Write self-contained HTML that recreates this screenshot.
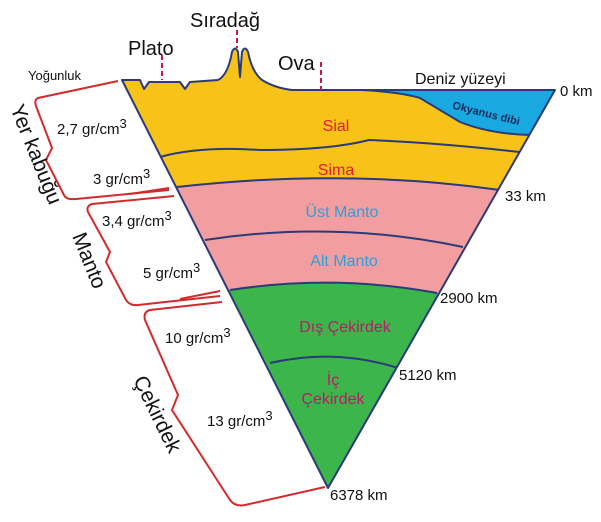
<!DOCTYPE html>
<html><head><meta charset="utf-8"><style>body{margin:0;background:#fff}svg{display:block}text{font-family:"Liberation Sans",sans-serif}</style></head>
<body>
<svg width="601" height="522" viewBox="0 0 601 522">
<defs>
<clipPath id="tri"><path d="M122,80 L140,80 L144,89 L149,82 L180,82 L185,89 L190,82 L218,80 Q228,75 232,52 Q235,45 238,52 L240,77 L242,52 Q245,45 248,52 Q252,72 262,80 Q275,88 292,90 L555,90 L328,488 Z"/></clipPath>
</defs>
<g clip-path="url(#tri)">
<rect x="0" y="0" width="601" height="522" fill="#f7c318"/>
<path d="M100,187 L177,187 Q346,168 500,190 L601,190 L601,300 L437,293 Q335,274 230,290 L100,295Z" fill="#f29ea0"/>
<path d="M100,290 L230,290 Q335,274 437,293 L601,300 L601,522 L100,522Z" fill="#3cb54a"/>
<path d="M362,90 Q400,92 420,98 Q440,110 460,122 Q490,134 531,135 L601,135 L601,90 Z" fill="#19a8e0"/>
<g fill="none" stroke="#2b3a78" stroke-width="2">
<path d="M362,90 Q400,92 420,98 Q440,110 460,122 Q490,134 531,135"/>
<path d="M160,157 Q200,146 260,150 Q330,150 369,140 Q440,143 519,152"/>
<path d="M177,187 Q346,168 500,190"/>
<path d="M205,240 Q335,220 463,247"/>
<path d="M230,290 Q335,274 437,293"/>
<path d="M270,363 Q335,348 398,368"/>
</g>
</g>
<path d="M122,80 L140,80 L144,89 L149,82 L180,82 L185,89 L190,82 L218,80 Q228,75 232,52 Q235,45 238,52 L240,77 L242,52 Q245,45 248,52 Q252,72 262,80 Q275,88 292,90 L555,90 L328,488 Z" fill="none" stroke="#2b3a78" stroke-width="2" stroke-linejoin="round"/>
<g stroke="#c2185b" stroke-width="2" stroke-dasharray="5,3">
<line x1="162" y1="55" x2="162" y2="80"/><line x1="237" y1="30" x2="237" y2="48"/><line x1="321" y1="62" x2="321" y2="90"/>
</g>
<g fill="none" stroke="#d22b2b" stroke-width="2">
<path d="M118,81 L38,98 Q34,100 36,106 L52,148 L46,160 L64,195 Q66,200 76,199 L169,190"/>
<path d="M130,194 L169,188"/>
<path d="M174,196 L92,204 Q86,206 88,212 L110,252 L106,262 L126,300 Q130,306 138,305 L220,296"/>
<path d="M180,299 L220,291"/>
<path d="M222,302 L150,310 Q143,312 145,320 L178,395 L172,410 L230,500 Q235,507 245,505 L325,487"/>
</g>
<g font-size="20" fill="#111">
<text x="128" y="55">Plato</text><text x="190" y="27">Sıradağ</text><text x="278" y="70">Ova</text>
</g>
<g font-size="15" fill="#111">
<text x="28" y="80" font-size="13">Yoğunluk</text>
<text x="415" y="84" font-size="16">Deniz yüzeyi</text>
<text x="560" y="96">0 km</text>
<text x="505" y="201">33 km</text>
<text x="440" y="303">2900 km</text>
<text x="399" y="380">5120 km</text>
<text x="330" y="500">6378 km</text>
<text x="57" y="134">2,7 gr/cm<tspan dy="-6" font-size="13">3</tspan></text>
<text x="93" y="184">3 gr/cm<tspan dy="-6" font-size="13">3</tspan></text>
<text x="102" y="226">3,4 gr/cm<tspan dy="-6" font-size="13">3</tspan></text>
<text x="143" y="278">5 gr/cm<tspan dy="-6" font-size="13">3</tspan></text>
<text x="165" y="343">10 gr/cm<tspan dy="-6" font-size="13">3</tspan></text>
<text x="207" y="426">13 gr/cm<tspan dy="-6" font-size="13">3</tspan></text>
</g>
<text x="452" y="113" font-size="11" font-weight="bold" fill="#1b2a5e" transform="rotate(14 470 110)">Okyanus dibi</text>
<g font-size="16" text-anchor="middle">
<text x="336" y="131" fill="#e5183a">Sial</text>
<text x="336" y="175" fill="#e5183a">Sima</text>
<text x="342" y="217" fill="#2e9fd8">Üst Manto</text>
<text x="344" y="266" fill="#2e9fd8">Alt Manto</text>
<text x="345" y="332" fill="#c0186e">Dış Çekirdek</text>
<text x="333" y="385" fill="#c0186e">İç</text>
<text x="333" y="404" fill="#c0186e">Çekirdek</text>
</g>
<g font-size="21" fill="#111">
<text transform="translate(10,108) rotate(68)">Yer kabuğu</text>
<text transform="translate(72,236) rotate(68)">Manto</text>
<text transform="translate(133,380) rotate(64)">Çekirdek</text>
</g>
</svg>
</body></html>
